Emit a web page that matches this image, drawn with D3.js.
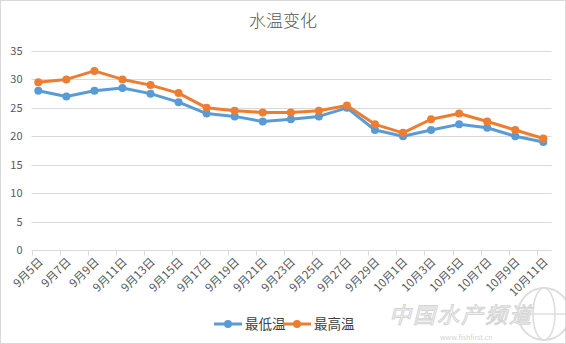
<!DOCTYPE html>
<html>
<head>
<meta charset="utf-8">
<script src="https://cdn.jsdelivr.net/npm/d3@7"></script>
<style>
  html, body { margin: 0; padding: 0; background: #fff; }
  svg { display: block; font-family: "Microsoft YaHei", "Noto Sans CJK SC", sans-serif; }
</style>
</head>
<body>
<svg id="chart" width="566" height="344"></svg>
<script>
// Daily water temperature, 5 Sep – 11 Oct
const categories = ["9月5日","9月7日","9月9日","9月11日","9月13日","9月15日","9月17日","9月19日","9月21日","9月23日","9月25日","9月27日","9月29日","10月1日","10月3日","10月5日","10月7日","10月9日","10月11日"];
const lowTemps  = [28.0, 27.0, 28.0, 28.5, 27.5, 26.0, 24.0, 23.5, 22.6, 23.0, 23.5, 25.0, 21.1, 20.0, 21.1, 22.1, 21.5, 20.0, 19.0];
const highTemps = [29.5, 30.0, 31.5, 30.0, 29.0, 27.6, 25.0, 24.5, 24.2, 24.2, 24.5, 25.4, 22.1, 20.6, 23.0, 24.0, 22.6, 21.1, 19.6];
const yTicks = [0, 5, 10, 15, 20, 25, 30, 35];
const seriesNames = ["最低温", "最高温"];
const seriesColors = ["#5B9BD5", "#ED7D31"];

const svg = d3.select("#chart");
const W = 566, H = 344;

// outer frame
svg.append("rect").attr("x", 0.5).attr("y", 0.5).attr("width", W - 1).attr("height", H - 1)
  .attr("fill", "#fff").attr("stroke", "#d9d9d9");

const plotLeft = 31.5, plotRight = 551.5;
const x = d3.scalePoint().domain(categories).range([38.3, 543.3]);
const y = d3.scaleLinear().domain([0, 35]).range([250, 51]);

// title
svg.append("text").attr("x", 283).attr("y", 27).attr("text-anchor", "middle")
  .attr("font-size", 17).attr("font-weight", 300).attr("fill", "#595959").text("水温变化");

// horizontal gridlines
svg.append("g").selectAll("line").data(yTicks.filter(d => d > 0)).join("line")
  .attr("x1", plotLeft).attr("x2", plotRight)
  .attr("y1", d => Math.round(y(d)) + 0.5).attr("y2", d => Math.round(y(d)) + 0.5)
  .attr("stroke", "#d9d9d9").attr("stroke-width", 1);

// y axis labels
const yAxis = d3.axisLeft(y).tickValues(yTicks).tickSize(0).tickPadding(0);
const gy = svg.append("g").attr("transform", `translate(${plotLeft - 9},0)`).call(yAxis);
gy.select(".domain").remove();
gy.selectAll("text").attr("font-size", 11).attr("fill", "#595959")
  .attr("font-family", "\"Microsoft YaHei\", \"Noto Sans CJK SC\", sans-serif");

// x axis line and tick marks
const y0 = Math.round(y(0)) + 0.5;
svg.append("line").attr("x1", plotLeft).attr("x2", plotRight).attr("y1", y0).attr("y2", y0)
  .attr("stroke", "#d9d9d9");
svg.append("g").selectAll("line").data(categories).join("line")
  .attr("x1", d => Math.round(x(d) - 6.6) + 0.5).attr("x2", d => Math.round(x(d) - 6.6) + 0.5)
  .attr("y1", y0).attr("y2", y0 + 5).attr("stroke", "#d9d9d9");

// rotated category labels
svg.append("g").selectAll("text").data(categories).join("text")
  .attr("transform", d => `translate(${x(d) + 3},${y0 + 10}) rotate(-45)`)
  .attr("text-anchor", "end").attr("dominant-baseline", "middle")
  .attr("font-size", 11.5).attr("fill", "#595959").text(d => d);

// series lines and markers
const seriesData = [lowTemps, highTemps];
const line = d3.line().x((d, i) => x(categories[i])).y(d => y(d));
seriesData.forEach((vals, k) => {
  const g = svg.append("g");
  g.append("path").datum(vals).attr("d", line).attr("fill", "none")
    .attr("stroke", seriesColors[k]).attr("stroke-width", 3).attr("stroke-linejoin", "round");
  g.selectAll("circle").data(vals).join("circle")
    .attr("cx", (d, i) => x(categories[i])).attr("cy", d => y(d)).attr("r", 4)
    .attr("fill", seriesColors[k]);
});

// legend
const legendItems = [{x: 214, name: seriesNames[0], c: seriesColors[0]}, {x: 283, name: seriesNames[1], c: seriesColors[1]}];
const lg = svg.append("g");
legendItems.forEach(it => {
  lg.append("line").attr("x1", it.x).attr("x2", it.x + 28).attr("y1", 324).attr("y2", 324)
    .attr("stroke", it.c).attr("stroke-width", 3);
  lg.append("circle").attr("cx", it.x + 14).attr("cy", 324).attr("r", 4).attr("fill", it.c);
  lg.append("text").attr("x", it.x + 31).attr("y", 329).attr("font-size", 13.5)
    .attr("fill", "#404040").text(it.name);
});

// site mark, lower right
const wm = svg.append("g").attr("opacity", 0.6);
wm.append("circle").attr("cx", 544).attr("cy", 314).attr("r", 26)
  .attr("fill", "none").attr("stroke", "#c8c8c8").attr("stroke-width", 2);
wm.append("ellipse").attr("cx", 544).attr("cy", 314).attr("rx", 11).attr("ry", 26)
  .attr("fill", "none").attr("stroke", "#c8c8c8").attr("stroke-width", 1.5);
wm.append("line").attr("x1", 518).attr("x2", 570).attr("y1", 314).attr("y2", 314)
  .attr("stroke", "#c8c8c8").attr("stroke-width", 1.5);
wm.append("text").attr("x", 389).attr("y", 323).attr("font-size", 22).attr("font-style", "italic")
  .attr("textLength", 142).attr("fill", "#fff").attr("stroke", "#b8b8b8").attr("stroke-width", 1).text("中国水产频道");
wm.append("text").attr("x", 440).attr("y", 340).attr("font-size", 7)
  .attr("fill", "#b8b8b8").text("www.fishfirst.cn");
</script>
</body>
</html>
